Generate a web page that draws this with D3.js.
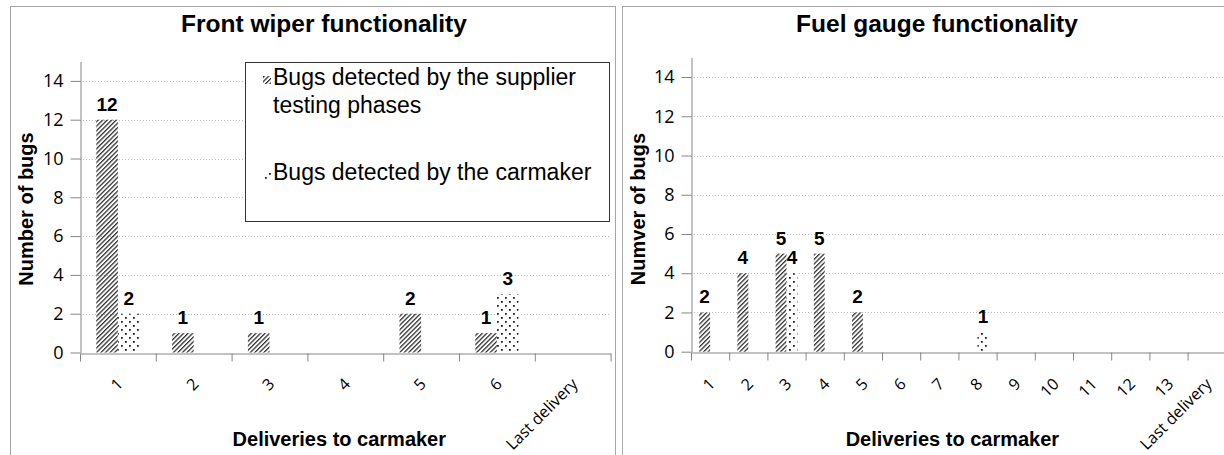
<!DOCTYPE html>
<html>
<head>
<meta charset="utf-8">
<script src="https://cdn.jsdelivr.net/npm/d3@7"></script>
<style>
  body { margin: 0; background: #fff; }
  svg { display: block; }
</style>
</head>
<body>
<svg id="chart" width="1224" height="455"></svg>
<script>
// data (null = no bar)
var wiperCats = ["1", "2", "3", "4", "5", "6", "Last delivery"];
var wiperSupplier = [12, 1, 1, null, 2, 1, null];
var wiperCarmaker = [2, null, null, null, null, 3, null];

var fuelCats = ["1", "2", "3", "4", "5", "6", "7", "8", "9", "10", "11", "12", "13", "Last delivery"];
var fuelSupplier = [2, 4, 5, 5, 2, null, null, null, null, null, null, null, null, null];
var fuelCarmaker = [null, null, 4, null, null, null, null, 1, null, null, null, null, null, null];

var yTicks = [0, 2, 4, 6, 8, 10, 12, 14];

var svg = d3.select("#chart");
var SANS = "'Liberation Sans', Arial, sans-serif";
var TICKF = "'Open Sans', Lato, sans-serif";

// fill patterns
var defs = svg.append("defs");
defs.append("pattern").attr("id", "hatch")
  .attr("patternUnits", "userSpaceOnUse").attr("width", 3.2).attr("height", 3.2)
  .attr("patternTransform", "rotate(45)")
  .append("rect").attr("x", 0).attr("y", 0).attr("width", 1.3).attr("height", 3.2).attr("fill", "#333");
var dots = defs.append("pattern").attr("id", "dots")
  .attr("patternUnits", "userSpaceOnUse").attr("width", 8).attr("height", 8);
dots.append("rect").attr("width", 8).attr("height", 8).attr("fill", "#fff");
dots.append("rect").attr("x", 1).attr("y", 1).attr("width", 1.8).attr("height", 1.8).attr("fill", "#222");
dots.append("rect").attr("x", 5).attr("y", 5).attr("width", 1.8).attr("height", 1.8).attr("fill", "#222");
var fills = ["url(#hatch)", "url(#dots)"];

function drawChart(o) {
  var g = svg.append("g");

  // outer frame
  g.append("rect").attr("x", o.frame[0] + 0.5).attr("y", 6.5)
    .attr("width", o.frame[1] - o.frame[0]).attr("height", 470)
    .attr("fill", "#fff").attr("stroke", "#a6a6a6");

  g.append("text").attr("x", o.titleX).attr("y", 32)
    .attr("text-anchor", "middle")
    .attr("font-family", SANS).attr("font-weight", "bold").attr("font-size", 24.5)
    .text(o.title);

  var x = d3.scaleBand().domain(o.cats).range([o.left, o.right]).paddingInner(0.43).paddingOuter(0.215);
  var xs = d3.scaleBand().domain([0, 1]).range([0, x.bandwidth()]);
  var y = d3.scaleLinear().domain([0, 15]).range([o.bottom, o.top]);
  var xEdge = d3.scaleLinear().domain([0, o.cats.length]).range([o.left, o.right]);

  // grid
  g.append("g").selectAll("line").data(yTicks.filter(function(d) { return d > 0; })).enter()
    .append("line")
    .attr("x1", o.left).attr("x2", o.right)
    .attr("y1", function(d) { return Math.round(y(d)) + 0.5; })
    .attr("y2", function(d) { return Math.round(y(d)) + 0.5; })
    .attr("stroke", "#b8b8b8").attr("stroke-dasharray", "1,2");

  // y axis
  var ya = g.append("g").attr("transform", "translate(" + (o.left + 0.5) + ",0)")
    .call(d3.axisLeft(y).tickValues(yTicks).tickSize(10).tickSizeOuter(0).tickPadding(7));
  ya.select(".domain").attr("stroke", "#868686");
  ya.selectAll(".tick line").attr("stroke", "#868686");
  ya.selectAll(".tick text").attr("fill", "#000")
    .style("font-family", TICKF).style("font-size", "18px");

  // x axis (ticks on category edges)
  var xa = g.append("g").attr("transform", "translate(0," + (Math.round(o.bottom) + 0.5) + ")")
    .call(d3.axisBottom(xEdge).tickValues(d3.range(o.cats.length + 1)).tickSize(8).tickSizeOuter(0).tickFormat(""));
  xa.select(".domain").attr("stroke", "#868686");
  xa.selectAll(".tick line").attr("stroke", "#868686");

  g.append("g").selectAll("text").data(o.cats).enter().append("text")
    .attr("transform", function(d) {
      return "translate(" + (x(d) + x.bandwidth() / 2 + 2) + "," + 381 + ") rotate(-45)";
    })
    .attr("text-anchor", "end").attr("dy", "0.35em")
    .attr("font-family", TICKF).attr("font-size", 16)
    .text(function(d) { return d; });

  // bars + labels
  [o.supplier, o.carmaker].forEach(function(vals, si) {
    var rows = o.cats.map(function(c, i) { return { c: c, v: vals[i] }; })
      .filter(function(d) { return d.v != null; });
    g.append("g").selectAll("rect").data(rows).enter().append("rect")
      .attr("x", function(d) { return x(d.c) + xs(si); })
      .attr("y", function(d) { return y(d.v); })
      .attr("width", xs.bandwidth())
      .attr("height", function(d) { return y(0) - y(d.v); })
      .attr("fill", fills[si]);
    g.append("g").selectAll("text").data(rows).enter().append("text")
      .attr("x", function(d) { return x(d.c) + xs(si) + xs.bandwidth() / 2; })
      .attr("y", function(d) { return y(d.v) - 9; })
      .attr("text-anchor", "middle")
      .attr("font-family", SANS).attr("font-weight", "bold").attr("font-size", 19)
      .text(function(d) { return d.v; });
  });

  // axis titles
  g.append("text").attr("x", (o.left + o.right) / 2 - 6).attr("y", 446)
    .attr("text-anchor", "middle")
    .attr("font-family", SANS).attr("font-weight", "bold").attr("font-size", 20)
    .text("Deliveries to carmaker");
  g.append("text").attr("transform", "translate(" + o.yTitleX + ",209) rotate(-90)")
    .attr("text-anchor", "middle").attr("dy", "0.35em")
    .attr("font-family", SANS).attr("font-weight", "bold").attr("font-size", 20)
    .text(o.yTitle);

  return g;
}

var left = drawChart({
  frame: [10, 615], title: "Front wiper functionality", titleX: 324,
  cats: wiperCats, supplier: wiperSupplier, carmaker: wiperCarmaker,
  left: 80, right: 610.6, top: 61.5, bottom: 352.5,
  yTitle: "Number of bugs", yTitleX: 26
});

drawChart({
  frame: [622, 1240], title: "Fuel gauge functionality", titleX: 937,
  cats: fuelCats, supplier: fuelSupplier, carmaker: fuelCarmaker,
  left: 691, right: 1225.8, top: 57.4, bottom: 351.7,
  yTitle: "Numver of bugs", yTitleX: 638
});

// legend (left chart only)
var lg = left.append("g");
lg.append("rect").attr("x", 245.5).attr("y", 62.5).attr("width", 364).attr("height", 159)
  .attr("fill", "#fff").attr("stroke", "#333");
var legendRows = [
  { lines: ["Bugs detected by the supplier", "testing phases"], y: 85, fill: fills[0] },
  { lines: ["Bugs detected by the carmaker"], y: 180, fill: fills[1] }
];
legendRows.forEach(function(r) {
  lg.append("rect").attr("x", 263).attr("y", r.y - 9).attr("width", 8).attr("height", 8).attr("fill", r.fill);
  var t = lg.append("text").attr("x", 273).attr("y", r.y)
    .attr("font-family", SANS).attr("font-size", 23);
  r.lines.forEach(function(line, i) {
    t.append("tspan").attr("x", 273).attr("dy", i ? 28 : 0).text(line);
  });
});
</script>
</body>
</html>
